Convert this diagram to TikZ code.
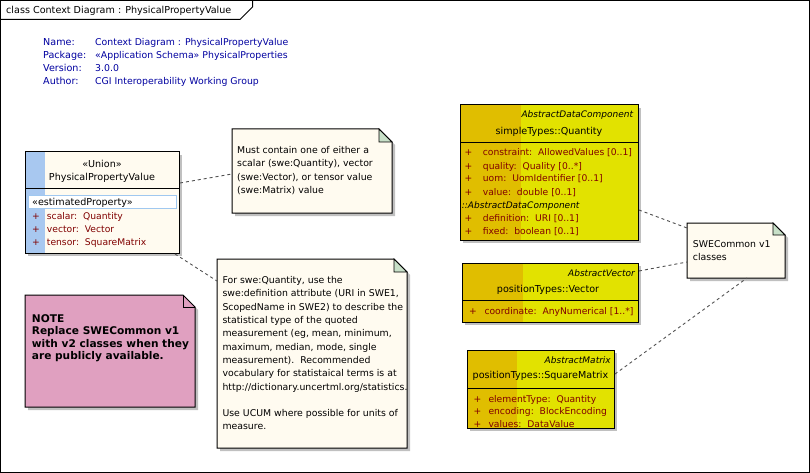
\documentclass[tikz,border=0pt]{standalone}
\usepackage{fontspec}
\setmainfont{DejaVu Sans}
\newcommand\fs{\fontsize{9.6}{13.3}\selectfont}
\newcommand\fsn{\fontsize{9.35}{13.3}\selectfont}
\newcommand\fsa{\fontsize{9.2}{13}\selectfont}
\newcommand\fsi{\fontsize{9.0}{13}\selectfont\itshape}
\newcommand\fsb{\fontsize{10.6}{12.5}\selectfont\bfseries}
\definecolor{hdrblue}{RGB}{0,0,160}
\definecolor{attrred}{RGB}{128,0,0}
\definecolor{cream}{RGB}{255,251,240}
\definecolor{foldgreen}{RGB}{200,224,200}
\definecolor{notepink}{RGB}{224,160,192}
\definecolor{ylw}{RGB}{226,226,0}
\definecolor{ylwdark}{RGB}{224,190,0}
\definecolor{stripeblue}{RGB}{168,200,240}
\definecolor{propblue}{RGB}{160,200,240}
\definecolor{shadowgray}{RGB}{192,192,192}
\definecolor{conngray}{RGB}{80,80,80}
\tikzset{
 holder/.style={anchor=north west, inner sep=0pt, outer sep=0pt, draw=none},
 border/.style={draw=black, line width=1pt},
 txt/.style={anchor=base west, inner sep=0pt, font=\fs},
 ctxt/.style={anchor=base, inner sep=0pt, font=\fs},
 rtxt/.style={anchor=base east, inner sep=0pt, font=\fsi},
 attr/.style={anchor=base west, inner sep=0pt, font=\fsa, text=attrred},
 hdr/.style={txt, text=hdrblue},
 conn/.style={draw=conngray, line width=0.9pt, dash pattern=on 3pt off 3pt},
 notetext/.style={anchor=north west, inner sep=0pt, align=left, font=\fsn},
}
\begin{document}
\begin{tikzpicture}[x=1pt,y=-1pt]
\useasboundingbox (0,0) rectangle (810,473);
\fill[white] (0,0) rectangle (810,473);
% frame
\draw[border] (0.5,0.5) rectangle (809.5,472.5);
\draw[border] (0,19.5) -- (240,19.5) -- (252.5,7) -- (252.5,0);
\node[txt] (title) at (6,14) {class Context Diagram : PhysicalPropertyValue};
% header info
\node[hdr] (hn) at (43,45.5) {Name:};
\node[hdr] (hp) at (43,58.5) {Package:};
\node[hdr] (hv) at (43,71.5) {Version:};
\node[hdr] (ha) at (43,84.5) {Author:};
\node[hdr, font=\fsn] (hn2) at (95,45.5) {Context Diagram : PhysicalPropertyValue};
\node[hdr, font=\fsn] (hp2) at (95,58.5) {«Application Schema» PhysicalProperties};
\node[hdr, font=\fsn] (hv2) at (95,71.5) {3.0.0};
\node[hdr, font=\fsn] (ha2) at (95,84.5) {CGI Interoperability Working Group};

% ---------- Union class
\fill[shadowgray] (28,155) rectangle (182,256);
\node[holder, minimum width=154pt, minimum height=101pt, fill=cream] (union) at (25,152) {};
\fill[stripeblue] (25,152) rectangle (45,253);
\draw[border] (union.north west) rectangle (union.south east);
\draw[border] (25,188) -- (179,188);
\node[ctxt] (us) at (102,167.5) {«Union»};
\node[ctxt] (un) at (102,180) {PhysicalPropertyValue};
\draw[propblue, line width=0.9pt, fill=white] (28.5,195.5) rectangle (176.5,208.5);
\node[txt] (uep) at (32,205.5) {«estimatedProperty»};
\node[attr] at (32,219) {+};
\node[attr] at (46.7,219) {scalar:\ \ Quantity};
\node[attr] at (32,232) {+};
\node[attr] at (46.7,232) {vector:\ \ Vector};
\node[attr] at (32,245) {+};
\node[attr] at (46.7,245) {tensor:\ \ SquareMatrix};

% ---------- Note 1
\node[holder, minimum width=160pt, minimum height=84pt] (note1) at (232,129) {};
\fill[shadowgray] ([shift={(3pt,-3pt)}]note1.north west) -- ([shift={(-10pt,-3pt)}]note1.north east) -- ([shift={(3pt,-16pt)}]note1.north east) -- ([shift={(3pt,-3pt)}]note1.south east) -- ([shift={(3pt,-3pt)}]note1.south west) -- cycle;
\draw[border, fill=cream] (note1.north west) -- ([xshift=-13pt]note1.north east) -- ([yshift=-13pt]note1.north east) -- (note1.south east) -- (note1.south west) -- cycle;
\draw[line width=0.8pt, fill=foldgreen] ([xshift=-13pt]note1.north east) -- ([shift={(-13pt,-13pt)}]note1.north east) -- ([yshift=-13pt]note1.north east) -- cycle;
\node[notetext] (n1t) at (237,146.3) {Must contain one of either a\\scalar (swe:Quantity), vector\\(swe:Vector), or tensor value\\(swe:Matrix) value};

% ---------- Note 2
\node[holder, minimum width=190pt, minimum height=189pt] (note2) at (217,259) {};
\fill[shadowgray] ([shift={(3pt,-3pt)}]note2.north west) -- ([shift={(-10pt,-3pt)}]note2.north east) -- ([shift={(3pt,-16pt)}]note2.north east) -- ([shift={(3pt,-3pt)}]note2.south east) -- ([shift={(3pt,-3pt)}]note2.south west) -- cycle;
\draw[border, fill=cream] (note2.north west) -- ([xshift=-13pt]note2.north east) -- ([yshift=-13pt]note2.north east) -- (note2.south east) -- (note2.south west) -- cycle;
\draw[line width=0.8pt, fill=foldgreen] ([xshift=-13pt]note2.north east) -- ([shift={(-13pt,-13pt)}]note2.north east) -- ([yshift=-13pt]note2.north east) -- cycle;
\node[notetext] (n2t) at (222.3,276.3) {For swe:Quantity, use the\\swe:definition attribute (URI in SWE1,\\ScopedName in SWE2) to describe the\\statistical type of the quoted\\measurement (eg, mean, minimum,\\maximum, median, mode, single\\measurement).\ \ Recommended\\vocabulary for statistaical terms is at\\http://dictionary.uncertml.org/statistics.\\[13.3pt]Use UCUM where possible for units of\\measure.};

% ---------- Pink NOTE
\node[holder, minimum width=170pt, minimum height=112pt] (pnote) at (25,295) {};
\fill[shadowgray] ([shift={(3pt,-3pt)}]pnote.north west) -- ([shift={(-9pt,-3pt)}]pnote.north east) -- ([shift={(3pt,-15pt)}]pnote.north east) -- ([shift={(3pt,-3pt)}]pnote.south east) -- ([shift={(3pt,-3pt)}]pnote.south west) -- cycle;
\draw[border, fill=notepink] (pnote.north west) -- ([xshift=-12pt]pnote.north east) -- ([yshift=-12pt]pnote.north east) -- (pnote.south east) -- (pnote.south west) -- cycle;
\draw[line width=0.8pt] ([xshift=-12pt]pnote.north east) -- ([shift={(-12pt,-12pt)}]pnote.north east) -- ([yshift=-12pt]pnote.north east);
\node[anchor=north west, inner sep=0pt, align=left, font=\fsb] (pt) at (31.7,314) {NOTE\\Replace SWECommon v1\\with v2 classes when they\\are publicly available.};

% ---------- Quantity
\fill[shadowgray] (463,108) rectangle (641,243);
\node[holder, minimum width=178pt, minimum height=135pt, fill=ylw] (qty) at (460,105) {};
\fill[ylwdark] (460,105) rectangle (521,240);
\draw[border] (qty.north west) rectangle (qty.south east);
\draw[border] (460,142.5) -- (638,142.5);
\node[rtxt] (qa) at (633.3,118) {AbstractDataComponent};
\node[ctxt] (qn) at (549,135) {simpleTypes::Quantity};
\node[attr] at (464.3,156) {+};
\node[attr] at (482.7,156) {constraint:\ \ AllowedValues [0..1]};
\node[attr] at (464.3,169) {+};
\node[attr] at (482.7,169) {quality:\ \ Quality [0..*]};
\node[attr] at (464.3,182) {+};
\node[attr] at (482.7,182) {uom:\ \ UomIdentifier [0..1]};
\node[attr] at (464.3,195) {+};
\node[attr] at (482.7,195) {value:\ \ double [0..1]};
\node[anchor=base west, inner sep=0pt, font=\fsi] (qinh) at (461.7,208) {::AbstractDataComponent};
\node[attr] at (464.3,221) {+};
\node[attr] at (482.7,221) {definition:\ \ URI [0..1]};
\node[attr] at (464.3,234) {+};
\node[attr] at (482.7,234) {fixed:\ \ boolean [0..1]};

% ---------- Vector
\fill[shadowgray] (465,266) rectangle (641,325);
\node[holder, minimum width=176pt, minimum height=59pt, fill=ylw] (vec) at (462,263) {};
\fill[ylwdark] (462,263) rectangle (523,322);
\draw[border] (vec.north west) rectangle (vec.south east);
\draw[border] (462,300) -- (638,300);
\node[rtxt] (va) at (635,276) {AbstractVector};
\node[ctxt] (vn) at (548,292.5) {positionTypes::Vector};
\node[attr] at (469,314.5) {+};
\node[attr] at (484.3,314.5) {coordinate:\ \ AnyNumerical [1..*]};

% ---------- Matrix
\fill[shadowgray] (470,353) rectangle (617,431);
\node[holder, minimum width=147pt, minimum height=78pt, fill=ylw] (mat) at (467,350) {};
\fill[ylwdark] (467,350) rectangle (517,428);
\draw[border] (mat.north west) rectangle (mat.south east);
\draw[border] (467,388) -- (614,388);
\node[rtxt] (ma) at (611,363.5) {AbstractMatrix};
\node[ctxt] (mn) at (540.5,378.5) {positionTypes::SquareMatrix};
\node[attr] at (473.3,402) {+};
\node[attr] at (488.3,402) {elementType:\ \ Quantity};
\node[attr] at (473.3,414.5) {+};
\node[attr] at (488.3,414.5) {encoding:\ \ BlockEncoding};
\node[attr] at (473.3,427) {+};
\node[attr] at (488.3,427) {values:\ \ DataValue};

% ---------- SWE note
\node[holder, minimum width=98pt, minimum height=55pt] (swe) at (687,223) {};
\fill[shadowgray] ([shift={(3pt,-3pt)}]swe.north west) -- ([shift={(-9pt,-3pt)}]swe.north east) -- ([shift={(3pt,-15pt)}]swe.north east) -- ([shift={(3pt,-3pt)}]swe.south east) -- ([shift={(3pt,-3pt)}]swe.south west) -- cycle;
\draw[border, fill=cream] (swe.north west) -- ([xshift=-12pt]swe.north east) -- ([yshift=-12pt]swe.north east) -- (swe.south east) -- (swe.south west) -- cycle;
\draw[line width=0.8pt, fill=foldgreen] ([xshift=-12pt]swe.north east) -- ([shift={(-12pt,-12pt)}]swe.north east) -- ([yshift=-12pt]swe.north east) -- cycle;
\node[notetext] (swet) at (692.7,240.3) {SWECommon v1\\classes};

% ---------- connectors
\path (union.north east) ++(1,31) coordinate (c1a);
\path (note1.north west) ++(0,45) coordinate (c1b);
\path (union.south east) ++(-4,1) coordinate (c2a);
\path (note2.north west) ++(0,22) coordinate (c2b);
\path (qty.north east) ++(1,105) coordinate (c3a);
\path (swe.north west) ++(0,5) coordinate (c3b);
\path (vec.north east) ++(1,8) coordinate (c4a);
\path (swe.north west) ++(0,39) coordinate (c4b);
\path (mat.north east) ++(1,24) coordinate (c5a);
\path (swe.south west) ++(60,0) coordinate (c5b);
\draw[conn] (c1a) -- (c1b);
\draw[conn] (c2a) -- (c2b);
\draw[conn] (c3a) -- (c3b);
\draw[conn] (c4a) -- (c4b);
\draw[conn] (c5a) -- (c5b);
\end{tikzpicture}
\end{document}
